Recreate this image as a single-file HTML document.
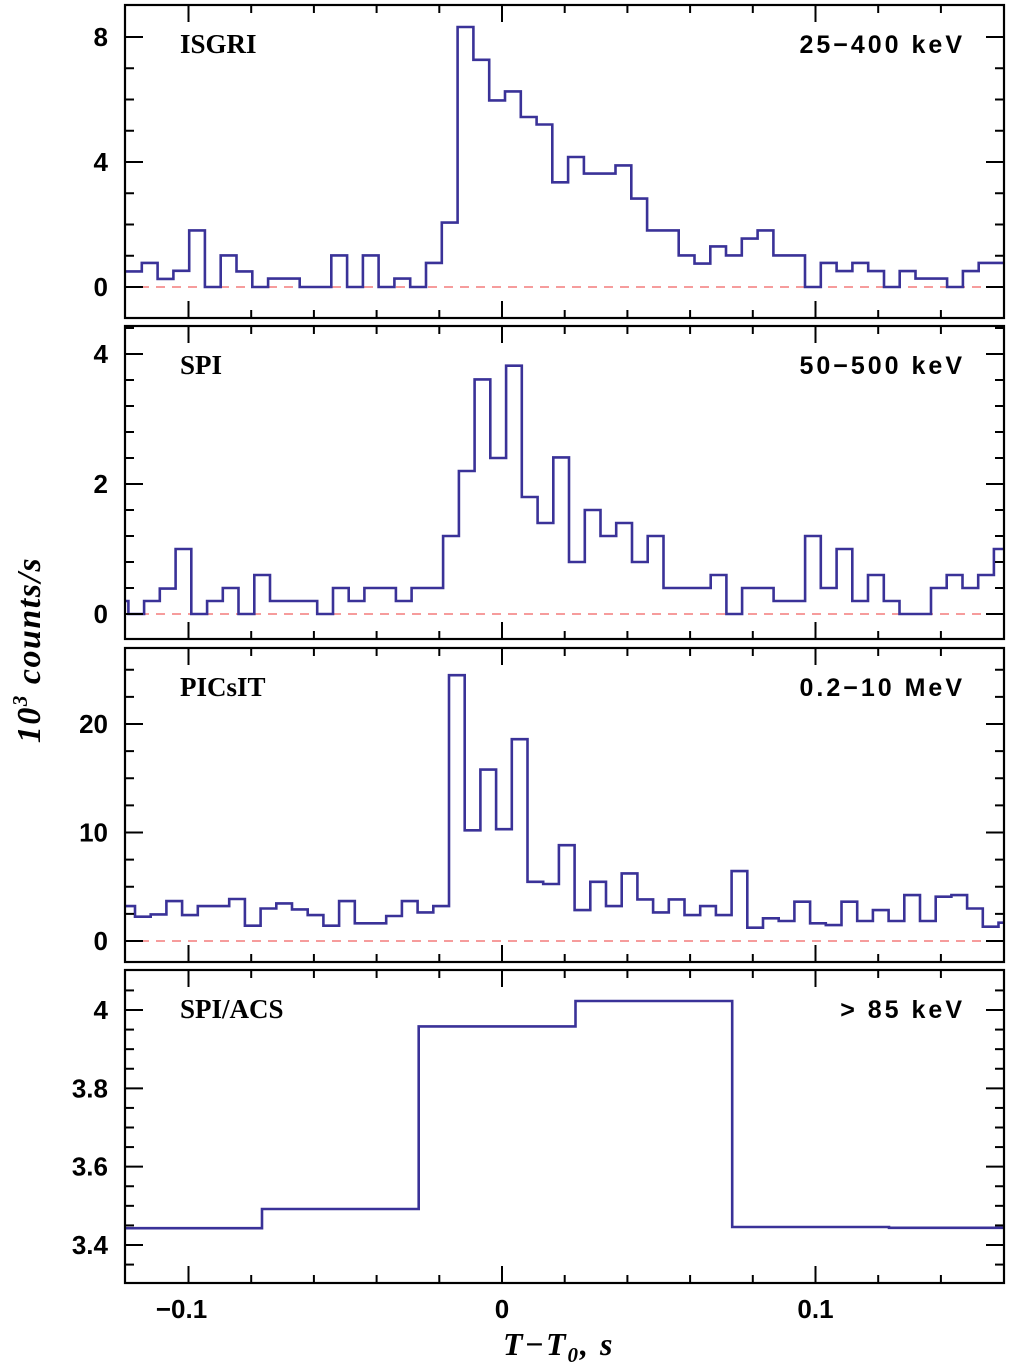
<!DOCTYPE html>
<html><head><meta charset="utf-8"><style>
html,body{margin:0;padding:0;background:#fff;}
svg{display:block;}
.tk{font-family:"Liberation Sans",sans-serif;font-size:26px;font-weight:bold;fill:#000;}
.lab{font-family:"Liberation Serif",serif;font-size:27px;font-weight:bold;fill:#000;}
.rng{font-family:"Liberation Sans",sans-serif;font-size:25px;font-weight:bold;fill:#000;letter-spacing:3px;}
</style></head><body>
<svg id="fig" width="1010" height="1369" viewBox="0 0 1010 1369" xmlns="http://www.w3.org/2000/svg"></svg>
<script>
// ---- data ----
const isgriStart = -0.11994, isgriWidth = 0.005037;
const isgriValues = [0.5,0.77,0.26,0.52,1.81,0,1.01,0.5,0,0.27,0.27,0,0,1.01,0,1.01,0,0.27,0,0.77,2.06,8.32,7.27,5.97,6.26,5.44,5.2,3.35,4.16,3.63,3.63,3.89,2.83,1.81,1.81,1.01,0.75,1.3,1.01,1.55,1.81,1.01,1.01,0,0.77,0.51,0.77,0.51,0,0.51,0.27,0.27,0,0.51,0.77,0.77];
const spiStart = -0.1242, spiWidth = 0.00502;
const spiValues = [0.2,0,0.2,0.39,1.0,0,0.2,0.4,0,0.6,0.2,0.2,0.2,0,0.4,0.2,0.4,0.4,0.2,0.4,0.4,1.2,2.2,3.61,2.4,3.82,1.8,1.4,2.41,0.8,1.6,1.2,1.4,0.8,1.2,0.4,0.4,0.4,0.6,0,0.4,0.4,0.2,0.2,1.2,0.4,1.0,0.2,0.6,0.2,0,0,0.4,0.6,0.4,0.6,1.0];
const picStart = -0.12207, picWidth = 0.005008;
const picValues = [3.22,2.24,2.45,3.68,2.39,3.22,3.22,3.87,1.41,3.0,3.47,2.91,2.39,1.41,3.68,1.63,1.63,2.3,3.68,2.64,3.22,24.5,10.2,15.8,10.3,18.6,5.46,5.25,8.83,2.85,5.46,3.22,6.23,3.83,2.64,3.83,2.39,3.22,2.39,6.44,1.23,2.09,1.84,3.62,1.63,1.47,3.62,1.84,2.85,1.84,4.23,1.84,4.08,4.23,3.0,1.32,1.69];
const acsStart = -0.12656, acsWidth = 0.05;
const acsValues = [3.443,3.492,3.958,4.023,3.446,3.444];
const xTickLabels = ["−0.1","0","0.1"];
const xTickValues = [-0.1,0,0.1];

// ---- layout ----
const NS="http://www.w3.org/2000/svg";
const svg=document.getElementById('fig');
const L=125,R=1004;
const xs=t=>502+t*3135;
function el(tag,attrs,parent){const e=document.createElementNS(NS,tag);for(const k in attrs)e.setAttribute(k,attrs[k]);(parent||svg).appendChild(e);return e;}

const panels=[
 {id:'isgri',top:5,bot:318,v0:0,p0:287,v1:8,p1:37,major:4,minor:1,labels:["0","4","8"],name:"ISGRI",rng:"25−400 keV",start:isgriStart,w:isgriWidth,vals:isgriValues,zero:true},
 {id:'spi',top:326,bot:639,v0:0,p0:614,v1:4,p1:354,major:2,minor:0.4,labels:["0","2","4"],name:"SPI",rng:"50−500 keV",start:spiStart,w:spiWidth,vals:spiValues,zero:true},
 {id:'picsit',top:648,bot:962,v0:0,p0:941,v1:20,p1:724,major:10,minor:2.5,labels:["0","10","20"],name:"PICsIT",rng:"0.2−10 MeV",start:picStart,w:picWidth,vals:picValues,zero:true},
 {id:'acs',top:970,bot:1283,v0:3.4,p0:1245,v1:4,p1:1010,major:0.2,minor:0.05,labels:["3.4","3.6","3.8","4"],name:"SPI/ACS",rng:"> 85 keV",start:acsStart,w:acsWidth,vals:acsValues,zero:false}
];

panels.forEach((p,pi)=>{
 const ys=v=>p.p0+(v-p.v0)*(p.p1-p.p0)/(p.v1-p.v0);
 const g=el('g',{});
 
 
 const cp=el('clipPath',{id:'clip'+pi},g);
 el('rect',{x:L,y:p.top,width:R-L,height:p.bot-p.top},cp);
 if(p.zero){
  const z=el('line',{x1:140,x2:R-2,y1:ys(0),y2:ys(0),stroke:'#f06060','stroke-width':1.3,'stroke-dasharray':'9,7'},g);
  
  
 }
 let d='';
 p.vals.forEach((v,i)=>{const xa=xs(p.start+i*p.w),xb=xs(p.start+(i+1)*p.w),y=ys(v);d+=(i===0?'M':'L')+xa.toFixed(1)+','+y.toFixed(1)+'L'+xb.toFixed(1)+','+y.toFixed(1);});
 const h=el('path',{d:d,fill:'none',stroke:'#3a3298','stroke-width':2.6,'clip-path':'url(#clip'+pi+')'},g);
 
 
 const f=el('rect',{x:L,y:p.top,width:R-L,height:p.bot-p.top,fill:'none',stroke:'#000','stroke-width':2.2},g);
 
 
 for(let k=-6;k<=8;k++){const t=k*0.02;const x=xs(t);if(x<L+1||x>R-1)continue;const maj=(k%5===0);const len=maj?17:8;
  el('line',{x1:x,x2:x,y1:p.bot,y2:p.bot-len,stroke:'#000','stroke-width':2},g);
  el('line',{x1:x,x2:x,y1:p.top,y2:p.top+len,stroke:'#000','stroke-width':2},g);}
 const vmin=p.v0+(p.bot-p.p0)*(p.v1-p.v0)/(p.p1-p.p0), vmax=p.v0+(p.top-p.p0)*(p.v1-p.v0)/(p.p1-p.p0);
 for(let k=Math.ceil(vmin/p.minor-1e-6);k*p.minor<=vmax+1e-9;k++){const v=k*p.minor;const y=ys(v);if(y>p.bot-1||y<p.top+1)continue;
  const r=v/p.major;const maj=Math.abs(r-Math.round(r))<1e-6;const len=maj?18:9;
  el('line',{x1:L,x2:L+len,y1:y,y2:y,stroke:'#000','stroke-width':2},g);
  el('line',{x1:R,x2:R-len,y1:y,y2:y,stroke:'#000','stroke-width':2},g);}
 p.labels.forEach(s=>{const v=parseFloat(s);const t=el('text',{x:108,y:ys(v)+9,'text-anchor':'end',class:'tk'},g);t.textContent=s;
  
  });
 const n=el('text',{x:180,y:p.top+48,class:'lab'},g);n.textContent=p.name;
 
 
 const rr=el('text',{x:965,y:p.top+48,'text-anchor':'end',class:'rng'},g);rr.textContent=p.rng;
 
 
});
xTickValues.forEach((v,i)=>{const t=el('text',{x:xs(v)-(i===0?7:0),y:1318,'text-anchor':'middle',class:'tk'});t.textContent=xTickLabels[i];
 
 });
const xt=el('text',{x:503,y:1355,style:'font-family:"Liberation Serif",serif;font-style:italic;font-weight:bold;font-size:32px;letter-spacing:2px'});


xt.innerHTML='T−T<tspan font-size="21" dy="7">0</tspan><tspan dy="-7">,  s</tspan>';
const yt=el('text',{x:0,y:0,transform:'translate(40,650) rotate(-90)','text-anchor':'middle',style:'font-family:"Liberation Serif",serif;font-style:italic;font-weight:bold;font-size:34px;letter-spacing:1.5px'});


yt.innerHTML='10<tspan font-size="21" dy="-13">3</tspan><tspan dy="13"> counts/s</tspan>';
</script>
</body></html>
